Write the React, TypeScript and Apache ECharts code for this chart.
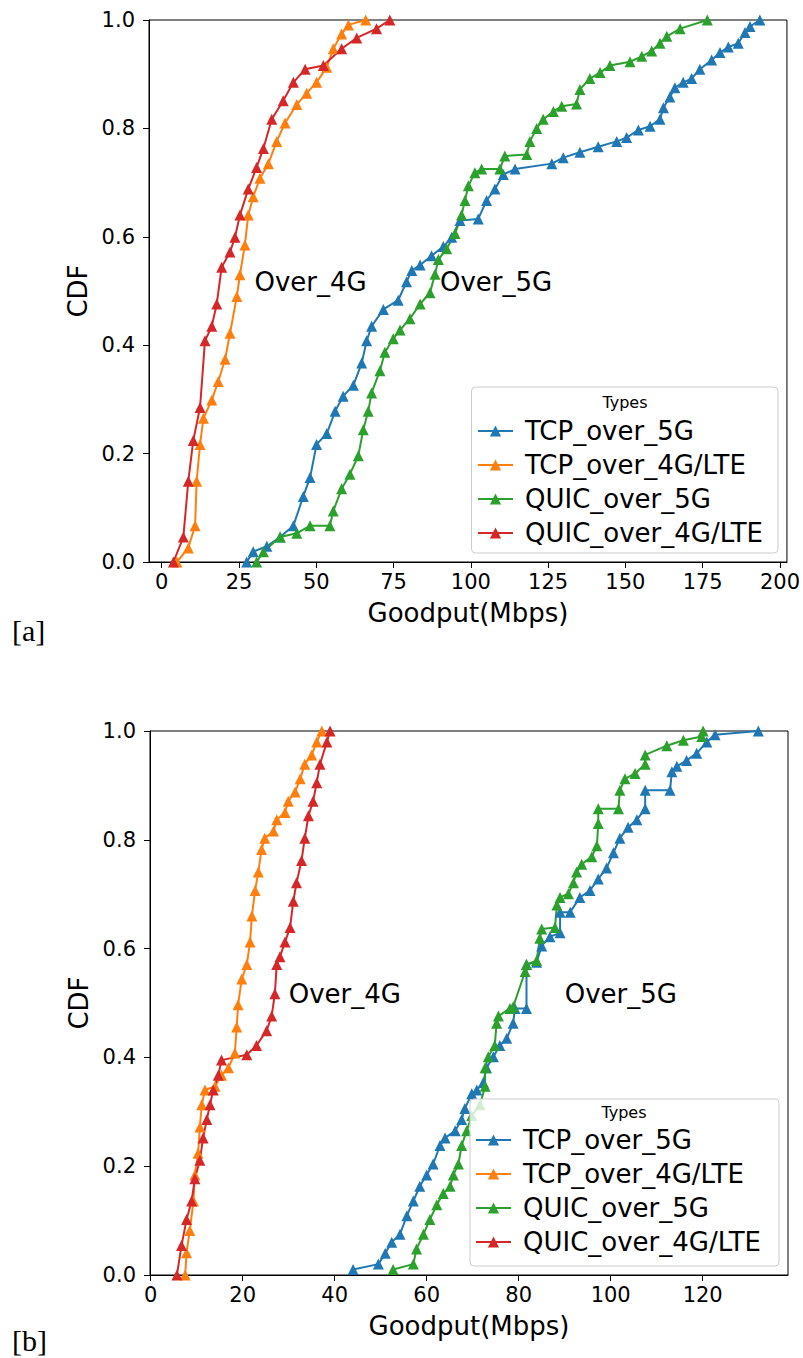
import React, { useEffect, useRef } from "react";
import * as echarts from "echarts";

const seriesNames = ["TCP_over_5G", "TCP_over_4G/LTE", "QUIC_over_5G", "QUIC_over_4G/LTE"];
const seriesColors = ["#1f77b4", "#ff7f0e", "#2ca02c", "#d62728"];

// ---------- Chart [a] ----------
const tcp5gA = [
  [27.5, 0], [29.6, 0.019], [34, 0.029], [38.3, 0.046], [42.6, 0.067], [45.8, 0.121], [48, 0.156],
  [50.1, 0.217], [53.4, 0.237], [56.1, 0.278], [58.7, 0.306], [62, 0.326], [64.7, 0.367], [66.3, 0.408],
  [67.9, 0.435], [71.7, 0.466], [76.5, 0.483], [79.2, 0.517], [80.9, 0.538], [83.6, 0.548], [87.3, 0.565],
  [91.1, 0.582], [93.8, 0.599], [96.5, 0.63], [102.4, 0.633], [105.1, 0.667], [107.8, 0.688], [110.5, 0.715],
  [114.3, 0.725], [126.2, 0.735], [129.9, 0.746], [135.3, 0.756], [141.2, 0.766], [147.2, 0.776],
  [150.4, 0.783], [154.2, 0.797], [158, 0.804], [161.2, 0.817], [162.3, 0.838], [164.4, 0.858], [166, 0.875],
  [168.7, 0.885], [171.4, 0.892], [174.1, 0.909], [177.9, 0.926], [180.6, 0.94], [183.3, 0.95], [186.5, 0.957],
  [188.7, 0.977], [190.3, 0.988], [193.5, 1.0],
];
const tcp4gA = [
  [4.9, 0], [8.6, 0.026], [10.8, 0.067], [11.3, 0.149], [12.4, 0.217], [13.5, 0.265], [16.2, 0.299],
  [18.3, 0.333], [20.5, 0.374], [22.1, 0.422], [24.3, 0.49], [25.3, 0.53], [26.9, 0.585], [28, 0.64],
  [29.6, 0.674], [31.8, 0.708], [34.5, 0.735], [37.2, 0.776], [39.9, 0.81], [43.7, 0.844], [46.9, 0.865],
  [50.1, 0.885], [53.4, 0.913], [55.5, 0.947], [58.2, 0.974], [60.4, 0.991], [66, 1.0],
];
const quic5gA = [
  [30.7, 0], [32.9, 0.019], [38.3, 0.046], [43.7, 0.053], [48, 0.067], [54.4, 0.067], [55.5, 0.094],
  [58.2, 0.135], [60.9, 0.162], [63.6, 0.196], [65.2, 0.244], [66.8, 0.278], [67.9, 0.312], [70.6, 0.353],
  [72.2, 0.387], [74.9, 0.412], [77.1, 0.428], [80.3, 0.449], [83.6, 0.476], [86.8, 0.497], [88.4, 0.531],
  [89.5, 0.558], [92.2, 0.578], [94.9, 0.606], [97, 0.64], [98.1, 0.667], [99.2, 0.694], [101.3, 0.718],
  [103.5, 0.725], [109.4, 0.725], [111, 0.749], [118.1, 0.752], [119.1, 0.776], [121.3, 0.8], [123.4, 0.817],
  [126.7, 0.831], [129.4, 0.841], [134.2, 0.845], [135.3, 0.872], [138.5, 0.892], [141.8, 0.903], [145, 0.916],
  [151.5, 0.923], [155.3, 0.933], [158.5, 0.943], [161.2, 0.957], [163.4, 0.97], [167.7, 0.984], [176.5, 1.0],
];
const quic4gA = [
  [3.8, 0], [7, 0.046], [8.6, 0.149], [10.2, 0.224], [12.4, 0.285], [14, 0.408], [16.2, 0.435],
  [17.8, 0.476], [19.4, 0.544], [22.1, 0.572], [23.7, 0.599], [25.3, 0.64], [28, 0.688], [30.7, 0.728],
  [32.9, 0.763], [35.6, 0.817], [39.3, 0.851], [42.6, 0.885], [46.4, 0.909], [52.3, 0.916], [58.2, 0.947],
  [63.1, 0.967], [69.5, 0.984], [73.8, 1.0],
];

// ---------- Chart [b] ----------
const tcp5gB = [
  [44, 0.01], [49.5, 0.02], [51, 0.04], [52.4, 0.06], [54.2, 0.075], [55.7, 0.109], [57.1, 0.136],
  [58.5, 0.163], [60, 0.184], [61.4, 0.204], [62.9, 0.238], [64, 0.252], [66.2, 0.265], [67.6, 0.286],
  [68.3, 0.306], [69.8, 0.333], [70.9, 0.34], [72.3, 0.354], [73, 0.381], [74.5, 0.401], [75.9, 0.422],
  [77.4, 0.435], [78.8, 0.463], [79.2, 0.49], [81.7, 0.49], [81.7, 0.571], [83.9, 0.575], [85, 0.605],
  [86.8, 0.622], [89, 0.629], [89, 0.667], [91.2, 0.667], [93.3, 0.694], [95.5, 0.707], [97.3, 0.728],
  [99.1, 0.748], [100.6, 0.776], [102, 0.803], [103.8, 0.823], [105.7, 0.837], [107.5, 0.857],
  [107.5, 0.891], [112.9, 0.891], [113.3, 0.925], [114.4, 0.935], [116.5, 0.946], [118.7, 0.959],
  [120.9, 0.98], [122.7, 0.993], [132.1, 1.0],
];
const tcp4gB = [
  [7.5, 0], [7.8, 0.041], [8.5, 0.082], [9.3, 0.136], [9.6, 0.184], [10.3, 0.224], [10.7, 0.272],
  [11.1, 0.313], [11.8, 0.34], [14, 0.347], [15.4, 0.367], [16.9, 0.381], [18.3, 0.408], [18.7, 0.456],
  [19, 0.497], [19.8, 0.544], [20.9, 0.571], [21.6, 0.612], [22, 0.66], [22.7, 0.707], [23.4, 0.741],
  [24.1, 0.782], [24.8, 0.803], [26.7, 0.816], [27.4, 0.837], [29.2, 0.85], [29.9, 0.871], [31.4, 0.888],
  [32.5, 0.912], [33.5, 0.939], [35, 0.956], [36.1, 0.98], [37.2, 1.0],
];
const quic5gB = [
  [52.7, 0.01], [57.1, 0.02], [57.8, 0.048], [59.3, 0.075], [60.7, 0.102], [62.2, 0.129], [63.6, 0.15],
  [65.1, 0.163], [65.8, 0.184], [66.9, 0.204], [67.6, 0.238], [68.7, 0.265], [69.8, 0.293], [71.6, 0.313],
  [72.7, 0.347], [72.7, 0.381], [73.4, 0.401], [74.8, 0.422], [75.2, 0.463], [75.6, 0.476], [78.1, 0.49],
  [78.8, 0.493], [81.4, 0.558], [81.7, 0.571], [83.9, 0.578], [84.6, 0.619], [85, 0.636], [87.9, 0.639],
  [88.3, 0.68], [89, 0.694], [90.8, 0.701], [91.9, 0.721], [92.6, 0.741], [93.7, 0.755], [95.9, 0.769],
  [97, 0.789], [97.3, 0.83], [97.3, 0.857], [101.7, 0.857], [102, 0.891], [103.1, 0.912], [105.3, 0.922],
  [107.5, 0.939], [107.5, 0.956], [112.2, 0.973], [115.8, 0.983], [119.8, 0.99], [120.1, 1.0],
];
const quic4gB = [
  [5.7, 0], [6.7, 0.054], [7.8, 0.102], [8.9, 0.136], [9.6, 0.177], [10.7, 0.211], [11.4, 0.252],
  [12.2, 0.286], [12.9, 0.313], [13.6, 0.34], [14.7, 0.367], [15.4, 0.395], [20.9, 0.405], [23, 0.422],
  [25.2, 0.449], [26.3, 0.476], [27, 0.517], [27.4, 0.571], [28.1, 0.585], [29.2, 0.612], [30.3, 0.639],
  [31, 0.687], [31.7, 0.721], [32.8, 0.762], [33.5, 0.803], [34.3, 0.844], [35.3, 0.871], [36.1, 0.905],
  [36.8, 0.939], [38.3, 0.98], [39, 1.0],
];

const xTicksA = [0, 25, 50, 75, 100, 125, 150, 175, 200];
const xTicksB = [0, 20, 40, 60, 80, 100, 120];
const yTicks = [0, 0.2, 0.4, 0.6, 0.8, 1.0];
const annotationsA = [
  { text: "Over_4G", x: 30, y: 0.5 },
  { text: "Over_5G", x: 90, y: 0.5 },
];
const annotationsB = [
  { text: "Over_4G", x: 30, y: 0.5 },
  { text: "Over_5G", x: 90, y: 0.5 },
];

const FONT = "DejaVu Sans";

function makeXAxis(gridIndex: number, min: number, max: number, ticks: number[]) {
  return {
    type: "value",
    gridIndex,
    min,
    max,
    axisLine: { show: true, onZero: false, lineStyle: { color: "#000", width: 1 } },
    axisTick: { show: true, length: 6, customValues: ticks, lineStyle: { color: "#000", width: 1 } },
    axisLabel: { customValues: ticks, fontSize: 21, color: "#000", fontFamily: FONT, margin: 9 },
    splitLine: { show: false },
    name: "Goodput(Mbps)",
    nameLocation: "middle",
    nameGap: 38,
    nameTextStyle: { fontSize: 26, color: "#000", fontFamily: FONT },
  };
}

function makeYAxis(gridIndex: number) {
  return {
    type: "value",
    gridIndex,
    min: 0,
    max: 1,
    axisLine: { show: true, onZero: false, lineStyle: { color: "#000", width: 1 } },
    axisTick: { show: true, length: 6, customValues: yTicks, lineStyle: { color: "#000", width: 1 } },
    axisLabel: {
      customValues: yTicks,
      fontSize: 21,
      color: "#000",
      fontFamily: FONT,
      margin: 14,
      formatter: (v: number) => v.toFixed(1),
    },
    splitLine: { show: false },
    name: "CDF",
    nameLocation: "middle",
    nameGap: 46,
    nameTextStyle: { fontSize: 26, color: "#000", fontFamily: FONT },
  };
}

function lineSeries(name: string, color: string, data: number[][], idx: number) {
  return {
    type: "line",
    name,
    xAxisIndex: idx,
    yAxisIndex: idx,
    data,
    symbol: "triangle",
    symbolSize: 11,
    showSymbol: true,
    showAllSymbol: true,
    lineStyle: { color, width: 2 },
    itemStyle: { color },
    emphasis: { disabled: true },
  };
}

function annotationSeries(items: { text: string; x: number; y: number }[], idx: number) {
  return {
    type: "scatter",
    name: "annotations" + idx,
    xAxisIndex: idx,
    yAxisIndex: idx,
    symbolSize: 0.01,
    itemStyle: { color: "#000", opacity: 0 },
    data: items.map((a) => ({ value: [a.x, a.y], label: { formatter: a.text } })),
    label: {
      show: true,
      position: "right",
      distance: 0,
      offset: [0, -9],
      fontSize: 26,
      color: "#000",
      opacity: 1,
      fontFamily: FONT,
    },
    z: 5,
    silent: true,
  };
}

function makeLegend(left: number, top: number) {
  return {
    data: seriesNames,
    orient: "vertical",
    left,
    top,
    padding: 0,
    itemWidth: 35,
    itemHeight: 14,
    itemGap: 8,
    selectedMode: false,
    textStyle: { fontSize: 26, lineHeight: 26, color: "#000", fontFamily: FONT, padding: [0, 0, 0, 7] },
    z: 10,
  };
}

export default function App() {
  const ref = useRef<HTMLDivElement>(null);
  useEffect(() => {
    if (!ref.current) return;
    const chart = echarts.init(ref.current, undefined, { renderer: "svg" });
    const dataA = [tcp5gA, tcp4gA, quic5gA, quic4gA];
    const dataB = [tcp5gB, tcp4gB, quic5gB, quic4gB];
    const option = {
      animation: false,
      backgroundColor: "#fff",
      grid: [
        { left: 149, top: 20, width: 638, height: 542, show: true, borderColor: "#000", borderWidth: 1, backgroundColor: "transparent" },
        { left: 150, top: 731, width: 638, height: 544, show: true, borderColor: "#000", borderWidth: 1, backgroundColor: "transparent" },
      ],
      xAxis: [makeXAxis(0, -4.11, 202.26, xTicksA), makeXAxis(1, -0.15, 138.55, xTicksB)],
      yAxis: [makeYAxis(0), makeYAxis(1)],
      legend: [makeLegend(477, 418), makeLegend(475, 1127)],
      series: [
        ...seriesNames.map((n, i) => lineSeries(n, seriesColors[i], dataA[i], 0)),
        ...seriesNames.map((n, i) => lineSeries(n, seriesColors[i], dataB[i], 1)),
        annotationSeries(annotationsA, 0),
        annotationSeries(annotationsB, 1),
      ],
      graphic: [
        {
          type: "rect",
          shape: { x: 471.5, y: 387, width: 306.5, height: 166, r: 4 },
          style: { fill: "rgba(255,255,255,0.8)", stroke: "#cccccc", lineWidth: 1 },
          z: 8,
        },
        {
          type: "text",
          x: 625,
          y: 402,
          style: { text: "Types", fontSize: 16, fill: "#000", fontFamily: FONT, align: "center", verticalAlign: "middle" },
          z: 11,
        },
        {
          type: "rect",
          shape: { x: 470, y: 1099, width: 309, height: 167, r: 4 },
          style: { fill: "rgba(255,255,255,0.8)", stroke: "#cccccc", lineWidth: 1 },
          z: 8,
        },
        {
          type: "text",
          x: 624,
          y: 1112,
          style: { text: "Types", fontSize: 16, fill: "#000", fontFamily: FONT, align: "center", verticalAlign: "middle" },
          z: 11,
        },
        {
          type: "text",
          x: 12,
          y: 630,
          style: { text: "[a]", fontSize: 30, fill: "#000", fontFamily: "Liberation Serif", align: "left", verticalAlign: "middle" },
        },
        {
          type: "text",
          x: 12,
          y: 1340,
          style: { text: "[b]", fontSize: 30, fill: "#000", fontFamily: "Liberation Serif", align: "left", verticalAlign: "middle" },
        },
      ],
    };
    chart.setOption(option as any);
    return () => chart.dispose();
  }, []);
  return (
    <div
      ref={ref}
      style={{ position: "absolute", left: 0, top: 0, width: 803, height: 1358, background: "#fff" }}
    />
  );
}
